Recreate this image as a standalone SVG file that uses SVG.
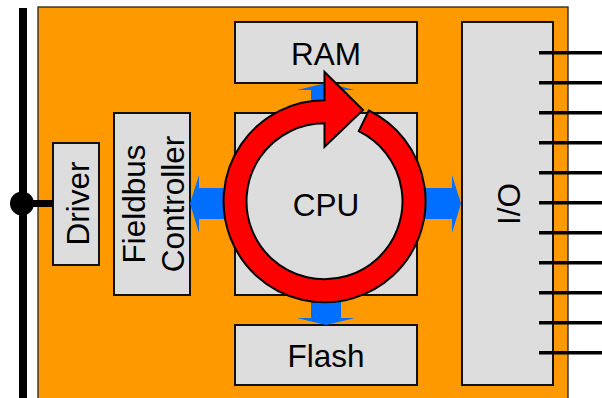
<svg xmlns="http://www.w3.org/2000/svg" width="602" height="398" viewBox="0 0 602 398">
  <style>
    .box { fill: #dddddd; stroke: #111111; stroke-width: 2; }
    .lbl { font-family: "Liberation Sans", Arial, sans-serif; font-size: 31.5px; fill: #000000; text-anchor: middle; }
    .arrow { fill: #006eff; stroke: none; }
    .pin { stroke: #000000; stroke-width: 3.5; }
  </style>
  <rect width="602" height="398" fill="#ffffff"/>
  <g id="board">
    <rect x="38" y="7" width="530" height="400" fill="#ff9900" stroke="#222222" stroke-width="1.3"/>
  </g>
  <g id="bus">
    <rect x="19" y="8" width="8" height="392" fill="#000000"/>
    <circle cx="22" cy="203.5" r="12" fill="#000000"/>
  </g>
  <g id="driver">
    <rect class="box" x="53" y="143" width="46" height="122"/>
    <text class="lbl" transform="translate(88.5,203.5) rotate(-90)">Driver</text>
  </g>
  <g id="fieldbus">
    <rect class="box" x="114" y="113" width="76" height="182"/>
    <text class="lbl" transform="translate(144.5,204) rotate(-90)">Fieldbus</text>
    <text class="lbl" transform="translate(183.5,204) rotate(-90)">Controller</text>
  </g>
  <g id="ram">
    <rect class="box" x="235" y="22" width="182" height="61"/>
    <text class="lbl" x="326" y="64.5">RAM</text>
  </g>
  <g id="cpu">
    <rect class="box" x="235" y="113" width="182" height="182"/>
    <text class="lbl" x="326" y="215.5">CPU</text>
  </g>
  <g id="flash">
    <rect class="box" x="235" y="325" width="182" height="60"/>
    <text class="lbl" x="326" y="366.5">Flash</text>
  </g>
  <g id="io">
    <rect class="box" x="462" y="22" width="91" height="363"/>
    <text class="lbl" transform="translate(519.5,204) rotate(-90)">I/O</text>
  </g>
  <g id="connectors">
    <rect x="22" y="200" width="31" height="7" fill="#000000"/>
    <polygon class="arrow" points="190,203.5 199,175 199,188 235,188 235,219 199,219 199,233"/>
    <polygon class="arrow" points="461,203.5 452,175 452,188 415,188 415,219 452,219 452,233"/>
    <polygon class="arrow" points="326,83 355,90 341,90 341,115 311,115 311,90 297,90"/>
    <polygon class="arrow" points="326,325 355,318 341,318 341,290 311,290 311,318 297,318"/>
    <line class="pin" x1="539" y1="52.7" x2="602" y2="52.7"/>
    <line class="pin" x1="539" y1="82.7" x2="602" y2="82.7"/>
    <line class="pin" x1="539" y1="112.7" x2="602" y2="112.7"/>
    <line class="pin" x1="539" y1="142.7" x2="602" y2="142.7"/>
    <line class="pin" x1="539" y1="172.7" x2="602" y2="172.7"/>
    <line class="pin" x1="539" y1="202.7" x2="602" y2="202.7"/>
    <line class="pin" x1="539" y1="232.7" x2="602" y2="232.7"/>
    <line class="pin" x1="539" y1="262.7" x2="602" y2="262.7"/>
    <line class="pin" x1="539" y1="292.7" x2="602" y2="292.7"/>
    <line class="pin" x1="539" y1="322.7" x2="602" y2="322.7"/>
    <line class="pin" x1="539" y1="352.7" x2="602" y2="352.7"/>
  </g>
  <g id="cycle">
    <path d="M 368.8 110.5 A 101 101 0 1 1 324.5 100.3 L 324.5 72 L 363 110 L 324.5 147 L 324.5 123.3 A 78 78 0 1 0 358.7 131.2 Z" fill="#ff0000" stroke="#000000" stroke-width="2" stroke-linejoin="miter"/>
  </g>
</svg>
